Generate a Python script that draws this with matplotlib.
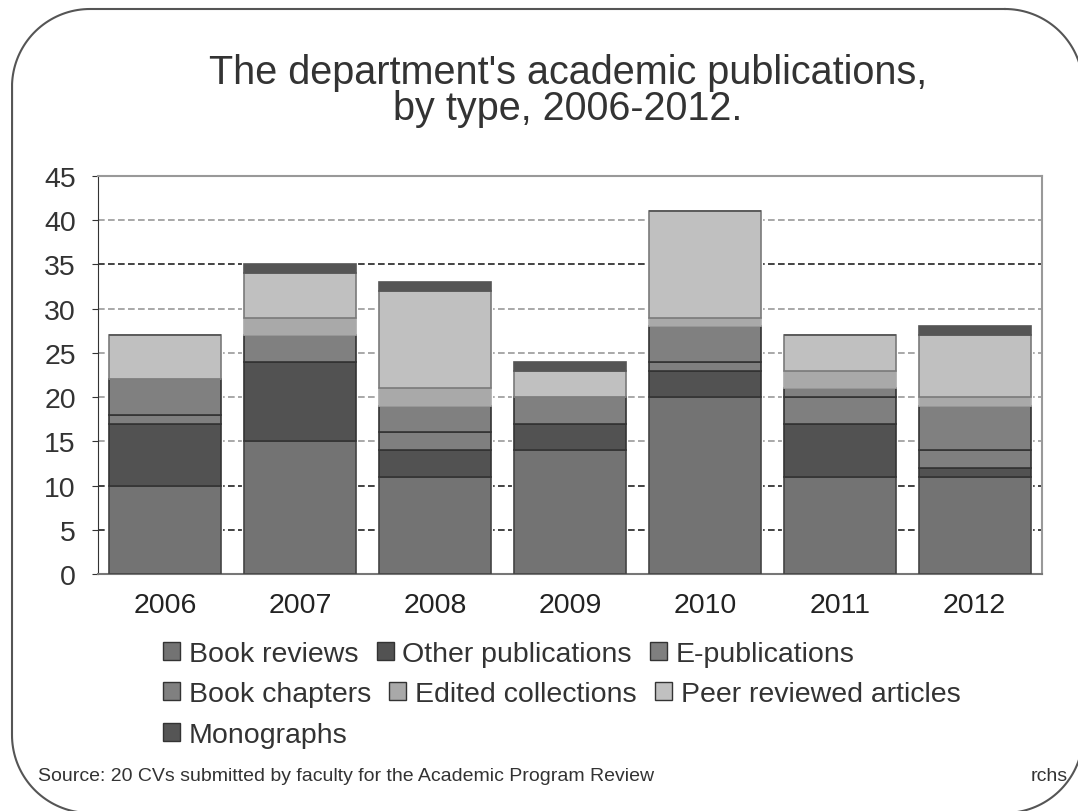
import matplotlib.pyplot as plt
import numpy as np
from matplotlib.patches import Patch

plt.rcParams['font.family'] = ['Liberation Sans', 'DejaVu Sans']

years = ['2006', '2007', '2008', '2009', '2010', '2011', '2012']

# publication counts per year, stacked bottom to top in this order
book_reviews = [10, 15, 11, 14, 20, 11, 11]
other_pubs = [7, 9, 3, 3, 3, 6, 1]
e_pubs = [1, 0, 2, 0, 1, 3, 2]
book_chapters = [4, 3, 3, 3, 4, 1, 5]
edited_collections = [0, 2, 2, 0, 1, 2, 1]
peer_reviewed = [5, 5, 11, 3, 12, 4, 7]
monographs = [0, 1, 1, 1, 0, 0, 1]

series = [
    ('Book reviews', book_reviews, '#737373', '#444444'),
    ('Other publications', other_pubs, '#525252', '#333333'),
    ('E-publications', e_pubs, '#7f7f7f', '#333333'),
    ('Book chapters', book_chapters, '#808080', '#333333'),
    ('Edited collections', edited_collections, '#a9a9a9', '#a9a9a9'),
    ('Peer reviewed articles', peer_reviewed, '#c0c0c0', '#7a7a7a'),
    ('Monographs', monographs, '#555555', '#555555'),
]

W, H = 1078, 812
fig = plt.figure(figsize=(W / 100, H / 100), dpi=100)

# rounded slide frame as a polyline in pixel units (y grows downward)
bg = fig.add_axes([0, 0, 1, 1], zorder=-1)
bg.set_xlim(0, W)
bg.set_ylim(H, 0)
bg.axis('off')
x0, x1, y0, y1, r = 12, 1083, 10, 814, 78
corners = [(x1 - r, y0 + r, -90, 0), (x1 - r, y1 - r, 0, 90),
           (x0 + r, y1 - r, 90, 180), (x0 + r, y0 + r, 180, 270)]
fx, fy = [], []
for cx, cy, a0, a1 in corners:
    t = np.radians(np.linspace(a0, a1, 40))
    fx.extend(cx + r * np.cos(t))
    fy.extend(cy + r * np.sin(t))
fx.append(fx[0])
fy.append(fy[0])
bg.plot(fx, fy, color='#555555', linewidth=1.5, clip_on=False)

ax = fig.add_axes([98 / W, 1 - 575 / H, 944 / W, 398 / H])

x = np.arange(len(years))
bottom = np.zeros(len(years))
handles = []
for name, vals, fc, ec in series:
    vals = np.array(vals, dtype=float)
    # white halo first so neighbouring segments look separated
    ax.bar(x, vals, width=0.83, bottom=bottom, color=fc, edgecolor='white',
           linewidth=3, zorder=2)
    ax.bar(x, vals, width=0.83, bottom=bottom, color=fc, edgecolor=ec,
           linewidth=1.2, zorder=3)
    bottom += vals
    handles.append(Patch(facecolor=fc, edgecolor='#333333', linewidth=1, label=name))

ax.set_xlim(-0.5, len(years) - 0.5)
ax.set_ylim(0, 45)
ax.set_yticks(range(0, 46, 5))
ax.set_xticks(x)
ax.set_xticklabels(years)
ax.tick_params(axis='x', length=0, labelsize=20.5, pad=13, colors='#222222')
ax.tick_params(axis='y', length=4, labelsize=20.5, pad=12, colors='#333333',
               direction='out')

# dashed horizontal gridlines, a few of them darker
dark_lines = [5, 10, 35]
for yv in range(5, 45, 5):
    col = '#222222' if yv in dark_lines else '#999999'
    ax.axhline(yv, color=col, linestyle=(0, (4, 2)), linewidth=1.2, zorder=1)

for side in ['top', 'right']:
    ax.spines[side].set_color('#999999')
    ax.spines[side].set_linewidth(1.5)
ax.spines['left'].set_color('#333333')
ax.spines['bottom'].set_color('#777777')
ax.spines['bottom'].set_linewidth(1.5)

fig.text(0.527, 1 - 91 / H, "The department's academic publications,\nby type, 2006-2012.",
         ha='center', va='center', fontsize=28.5, color='#333333', linespacing=0.92)

# legend laid out row by row, flowing left to right
rows = [handles[0:3], handles[3:6], handles[6:7]]
row_y = [655, 695, 736]
for hs, yy in zip(rows, row_y):
    fig.legend(handles=hs, loc='center left', ncol=len(hs),
               bbox_to_anchor=(163 / W, 1 - yy / H),
               frameon=False, fontsize=20.5, handlelength=0.6,
               handleheight=0.6, handletextpad=0.3, columnspacing=0.65,
               borderpad=0, borderaxespad=0, labelcolor='#333333')

fig.text(38 / W, 1 - 777 / H,
         'Source: 20 CVs submitted by faculty for the Academic Program Review',
         ha='left', va='center', fontsize=14, color='#333333')
fig.text(1068 / W, 1 - 777 / H, 'rchs', ha='right', va='center',
         fontsize=14, color='#333333')

fig.savefig('out.png', dpi=100)
